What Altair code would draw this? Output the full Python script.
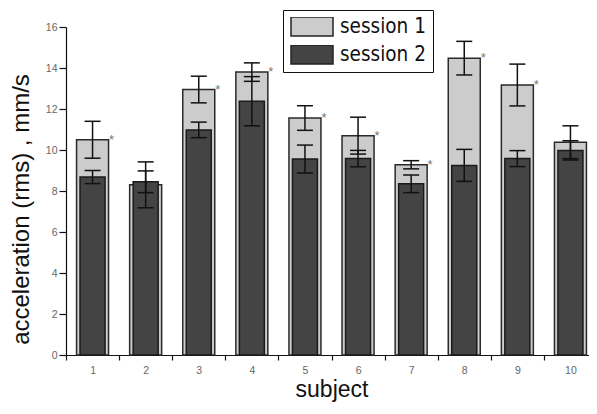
import altair as alt
import pandas as pd

subjects = ["1", "2", "3", "4", "5", "6", "7", "8", "9", "10"]
session1 = [10.5, 8.3, 12.95, 13.8, 11.56, 10.7, 9.28, 14.48, 13.17, 10.38]
session1_err = [0.9, 1.12, 0.65, 0.45, 0.6, 0.9, 0.2, 0.82, 1.02, 0.8]
session2 = [8.68, 8.45, 10.98, 12.38, 9.56, 9.58, 8.35, 9.25, 9.58, 9.98]
session2_err = [0.32, 0.53, 0.38, 1.2, 0.68, 0.4, 0.43, 0.78, 0.39, 0.47]
significant = [1, 0, 1, 1, 1, 1, 1, 1, 1, 0]
session_names = ["session 1", "session 2"]
session_colors = ["#cccccc", "#444444"]

rows = []
for i, s in enumerate(subjects):
    rows.append({"subject": s, "session": session_names[0], "value": session1[i],
                 "err": session1_err[i], "sig": significant[i]})
    rows.append({"subject": s, "session": session_names[1], "value": session2[i],
                 "err": session2_err[i], "sig": 0})
df = pd.DataFrame(rows)

FONT = "Liberation Sans"

x_enc = alt.X("subject:N", sort=subjects, scale=alt.Scale(paddingInner=0, paddingOuter=0),
              axis=alt.Axis(title="subject", labelAngle=0, tickBand="extent", tickSize=5,
                            labelPadding=5, titleY=41, titleBaseline="alphabetic",
                            titleFontSize=23))
y_scale = alt.Scale(domain=[0, 16], nice=False)
y_axis = alt.Axis(title="acceleration (rms) , mm/s", values=list(range(0, 17)),
                  labelExpr="datum.value % 2 === 0 ? datum.label : ''",
                  tickSize={"condition": {"test": "datum.value % 2 === 0", "value": 7}, "value": 4},
                  labelPadding=2, titleX=-38, titleY=182, titleBaseline="alphabetic",
                  grid=False)

color = alt.Color("session:N", scale=alt.Scale(domain=session_names, range=session_colors),
                  legend=alt.Legend(title=None, orient="none", legendX=217, legendY=-17))

base = alt.Chart(df).encode(x=x_enc)

light = base.transform_filter(alt.datum.session == "session 1").mark_bar(
    size=32, stroke="#2a2a2a", strokeWidth=1.5).encode(
    y=alt.Y("value:Q", scale=y_scale, axis=y_axis, stack=None), color=color)

dark = base.transform_filter(alt.datum.session == "session 2").mark_bar(
    size=25, stroke="#1a1a1a", strokeWidth=1.5).encode(
    y=alt.Y("value:Q", stack=None), color=color)

eb = base.transform_calculate(lo="datum.value - datum.err", hi="datum.value + datum.err")

rules = eb.mark_rule(color="#111111", strokeWidth=1.5).encode(y="lo:Q", y2="hi:Q")
cap_lo = eb.mark_tick(color="#111111", size=16, thickness=1.5, opacity=1).encode(y="lo:Q")
cap_hi = eb.mark_tick(color="#111111", size=16, thickness=1.5, opacity=1).encode(y="hi:Q")

stars = base.transform_filter(alt.datum.sig == 1).mark_text(
    text="*", font=FONT, fontSize=13, color="#777777", align="center",
    baseline="alphabetic", dx=19, dy=4).encode(y="value:Q")

chart = alt.layer(light, dark, rules, cap_lo, cap_hi, stars).properties(
    width=531, height=328,
    padding={"left": 58, "top": 19, "right": -8, "bottom": 47},
    autosize=alt.AutoSizeParams(type="none"),
).configure_view(stroke="transparent").configure_axis(
    domainColor="#111111", tickColor="#111111", domainWidth=1.2, tickWidth=1.2,
    labelFont=FONT, labelFontSize=10.5, labelColor="#666666",
    titleFont=FONT, titleFontSize=24, titleFontWeight="normal", titleColor="#111111",
).configure_legend(
    strokeColor="#111111", fillColor="#ffffff", padding=7,
    symbolType="M-1,-0.45L1,-0.45L1,0.45L-1,0.45Z", symbolSize=1764,
    symbolStrokeColor="#222222", symbolStrokeWidth=1.5, symbolOpacity=1,
    clipHeight=19, rowPadding=7,
    labelFont="DejaVu Sans Condensed, DejaVu Sans", labelFontSize=20.5, labelColor="#111111",
    labelOffset=6,
)

chart.save("out.html", embed_options={"renderer": "svg", "actions": False})
